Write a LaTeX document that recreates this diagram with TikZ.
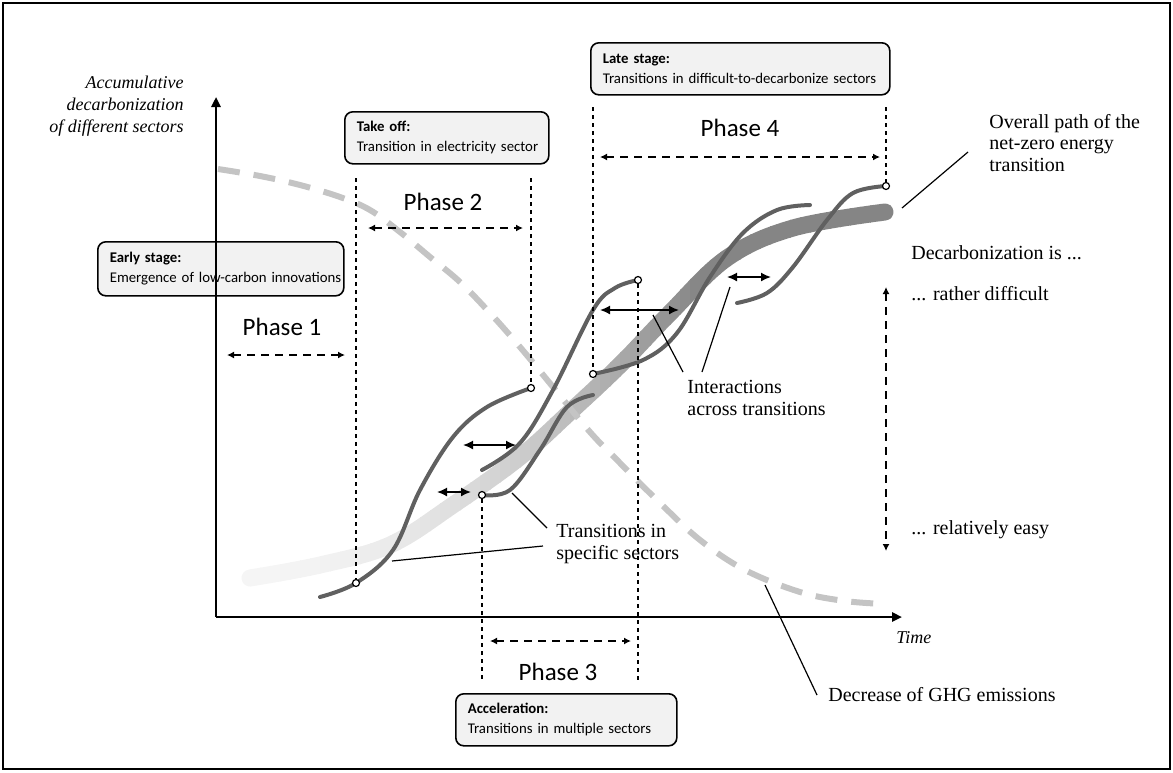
\documentclass[tikz,border=0pt]{standalone}
\usepackage{fontspec}
\setmainfont{Liberation Serif}
\newfontfamily\calibri{Carlito}
\usetikzlibrary{arrows.meta}

\definecolor{boxgray}{HTML}{F2F2F2}
\definecolor{curvegray}{HTML}{606060}
\definecolor{ghggray}{HTML}{C4C4C4}

\tikzset{
  phase/.style={inner sep=0pt, font=\calibri\fontsize{12.5}{15}\selectfont},
  stagebox/.style={draw, line width=0.8pt, rounded corners=4pt, fill=boxgray, anchor=north west,
    align=left, inner xsep=6pt, minimum height=26pt, font=\calibri\fontsize{7.4}{10}\selectfont},
  lbl/.style={inner sep=0pt, align=left, font=\fontsize{10}{10.6}\selectfont},
  guide/.style={line width=0.6pt, dash pattern=on 2pt off 2pt},
  span/.style={line width=0.7pt, dash pattern=on 4pt off 3pt,
    {Latex[length=3.5pt,width=3.5pt]}-{Latex[length=3.5pt,width=3.5pt]}},
  link/.style={line width=0.8pt, {Latex[length=5pt,width=4.5pt]}-{Latex[length=5pt,width=4.5pt]}},
  sector/.style={line width=2pt, curvegray, line cap=round},
  leader/.style={line width=0.6pt},
  endpt/.style={circle, draw, fill=white, line width=0.6pt, inner sep=0pt, minimum size=3.5pt},
  axis/.style={line width=1.2pt, -{Triangle[length=5pt,width=4.5pt]}},
}

\begin{document}
\begin{tikzpicture}[x=0.5pt, y=-0.5pt]
\useasboundingbox (0,0) rectangle (1173,772);
\draw[line width=1.2pt] (3,3) rectangle (1170,769);

% overall path, light to dark
\foreach \i in {0,...,67} {
  \pgfmathsetmacro\pc{4+44*min(1,max(0,(10*\i-15)/450))^2}
  \begin{scope}
    \clip ({230+10*\i},0) rectangle ({241+10*\i},772);
    \draw[line width=8.5pt, line cap=round, black!\pc] plot[smooth, tension=0.6] coordinates
      {(250,578) (320,565) (390,545) (453,505) (520,457) (570,412) (620,365) (670,313) (727,258) (793,228) (885,212)};
  \end{scope}
}

% GHG emissions
\draw[ghggray, line width=3pt, dash pattern=on 11pt off 7pt] plot[smooth, tension=0.6] coordinates
  {(218,169) (260,176) (300,185) (340,197) (370,210) (400,232) (430,257) (460,282) (490,313) (520,347)
   (553,387) (590,432) (620,463) (660,503) (700,540) (745,570) (800,592) (845,601) (885,604)};

% transitions in sectors
\draw[sector] plot[smooth, tension=0.6] coordinates {(320,597) (356,583) (393,550) (420,490) (453,437) (487,407) (531,388)};
\draw[sector] plot[smooth, tension=0.6] coordinates {(482,470) (520,443) (553,390) (593,310) (615,288) (638,280)};
\draw[sector] plot[smooth, tension=0.6] coordinates {(482,495) (510,490) (540,450) (567,407) (593,395)};
\draw[sector] plot[smooth, tension=0.6] coordinates {(593,374) (643,360) (677,333) (710,277) (743,233) (777,210) (810,205)};
\draw[sector] plot[smooth, tension=0.6] coordinates {(737,303) (767,293) (793,267) (827,220) (853,193) (886,186)};

\node[endpt] (openA) at (356,583) {};
\node[endpt] (endA) at (531,388) {};
\node[endpt] (endB) at (638,280) {};
\node[endpt] (startC) at (482,495) {};
\node[endpt] (startD) at (593,374) {};
\node[endpt] (endE) at (886,186) {};

% phase borders
\draw[guide] (356,178) -- (openA);
\draw[guide] (531,178) -- (endA);
\draw[guide] (startC) -- (482,683);
\draw[guide] (endB) -- (638,683);
\draw[guide] (593,107) -- (startD);
\draw[guide] (886,107) -- (endE);

\draw[span] (227,355) -- (345,355);
\draw[span] (368,228) -- (523,228);
\draw[span] (490,641) -- (631,641);
\draw[span] (600,157) -- (880,157);
\draw[span] (886,287) -- (886,551);

\node[phase] (ph1) at (282,327) {Phase 1};
\node[phase] (ph2) at (443,202) {Phase 2};
\node[phase] (ph3) at (558,672) {Phase 3};
\node[phase] (ph4) at (740,128) {Phase 4};

% interactions
\draw[link] (463,445) -- (516,445);
\draw[link] (437,492) -- (471,492);
\draw[link] (600,310) -- (679,310);
\draw[link] (727,277) -- (771,277);

% stages
\node[stagebox, text width=111pt, minimum height=27pt] (early) at (97,241) {\textbf{Early stage:}\\\mbox{Emergence of low-carbon innovations}};
\node[stagebox, text width=90pt] (takeoff) at (344,111) {\textbf{Take off:}\\\mbox{Transition in electricity sector}};
\node[stagebox, text width=98.5pt] (accel) at (455,693) {\textbf{Acceleration:}\\\mbox{Transitions in multiple sectors}};
\node[stagebox, text width=137.5pt] (late) at (590,42) {\textbf{Late stage:}\\\mbox{Transitions in difficult-to-decarbonize sectors}};

% axes
\coordinate (o) at (216,617);
\draw[axis] (o) -- (216,97);
\draw[axis] (o) -- (902,617);
\node[lbl, anchor=east, align=right, font=\itshape\fontsize{9}{11}\selectfont] (ylab) at (184,106)
  {Accumulative\\decarbonization\\of different sectors};
\node[lbl, anchor=west, font=\itshape\fontsize{9}{11}\selectfont] (time) at (896,638) {Time};

% labels and leaders
\node[lbl, anchor=west] (overall) at (989,143) {Overall path of the\\net-zero energy\\transition};
\node[lbl, anchor=west] (decarb) at (911,253) {Decarbonization is ...};
\node[lbl, anchor=west] (hard) at (911,294) {... rather difficult};
\node[lbl, anchor=west] (easy) at (911,530) {... relatively easy};
\node[lbl, anchor=west] (interact) at (687,398) {Interactions\\across transitions};
\node[lbl, anchor=west] (specific) at (556,544) {Transitions in\\specific sectors};
\node[lbl, anchor=west] (ghg) at (828,695) {Decrease of GHG emissions};

\coordinate (bandpt) at (902,208);
\coordinate (int1) at (653,315);
\coordinate (int2) at (730,287);
\coordinate (sec1) at (512,493);
\coordinate (sec2) at (392,561);
\coordinate (ghgpt) at (765,585);
\draw[leader] (bandpt) -- ([shift={(-10.5pt,-4.5pt)}]overall.west);
\draw[leader] (int1) -- ([shift={(-2pt,13pt)}]interact.west);
\draw[leader] (int2) -- ([shift={(7.5pt,13pt)}]interact.west);
\draw[leader] (sec1) -- ([shift={(-4.5pt,8pt)}]specific.west);
\draw[leader] (sec2) -- ([shift={(-6.5pt,-1pt)}]specific.west);
\draw[leader] (ghgpt) -- ([xshift=-5.5pt]ghg.west);
\end{tikzpicture}
\end{document}
